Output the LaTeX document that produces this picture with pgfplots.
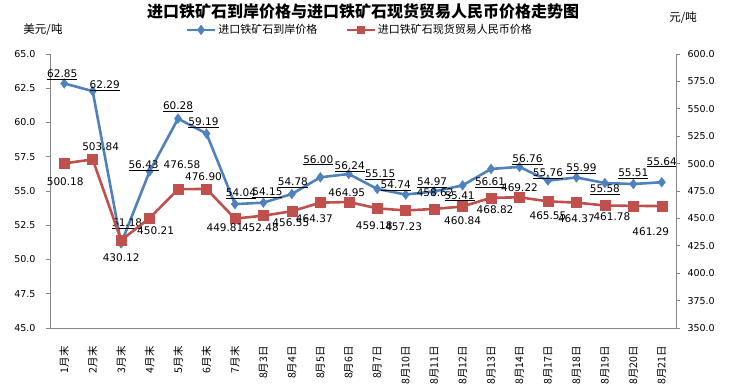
\documentclass[border=0pt]{standalone}
\usepackage{pgfplots}
\pgfplotsset{compat=1.18}
\usepackage{pgfplotstable}
\usepackage{fontspec}
\setmainfont{DejaVu Sans}
\newfontfamily\cjk{Noto Sans CJK SC}
\definecolor{eblue}{HTML}{4F81BD}
\definecolor{ered}{HTML}{C0504D}
\definecolor{axgray}{HTML}{868686}

\pgfplotstableread{
x y dx dy lab
0 62.85 -2 9 62.85
1 62.29 12 5 62.29
2 51.18 6 20 51.18
3 56.43 -6 6 56.43
4 60.28 0 12 60.28
5 59.19 -3 11 59.19
6 54.04 6 10 54.04
7 54.15 4 10 54.15
8 54.78 1 11 54.78
9 56.00 -2 17 56.00
10 56.24 1 7 56.24
11 55.15 3 14 55.15
12 54.74 -10 8.5 54.74
13 54.97 -2 9 54.97
14 55.41 -3 -11 55.41
15 56.61 -1 -14 56.61
16 56.76 8 7 56.76
17 55.76 0 7 55.76
18 55.99 5 9 55.99
19 55.58 0 -7 55.58
20 55.51 0 10 55.51
21 55.64 0 20 55.64
}\bluetab

\pgfplotstableread{
x y dx dy lab
0 500.18 1 -18 500.18
1 503.84 8 13 503.84
2 430.12 0 -17 430.12
3 450.21 6 -13 450.21
4 476.58 4 25 476.58
5 476.90 -3 12 476.90
6 449.81 -10 -9 449.81
7 452.48 -3 -12 452.48
8 456.55 -1 -11 456.55
9 464.37 -6 -15.6 464.37
10 464.95 -2 9 464.95
11 459.18 -3 -17 459.18
12 457.23 -2 -16.5 457.23
13 458.62 1 16 458.62
14 460.84 0 -14 460.84
15 468.82 4 -11.5 468.82
16 469.22 0 10 469.22
17 465.55 0 -14.6 465.55
18 464.37 0 -15.6 464.37
19 461.78 7 -11.5 461.78
20 461.40 0 0 {}
21 461.29 -11 -26 461.29
}\redtab

\begin{document}
\begin{tikzpicture}[x=1pt,y=1pt]
\useasboundingbox (0,0) rectangle (733,387);
\pgfplotsset{
  common/.style={
    at={(50pt,59pt)}, anchor=south west,
    scale only axis, width=626pt, height=274pt,
    xmin=-0.5, xmax=21.5,
    axis line style={axgray, line width=0.8pt},
    tick style={axgray, line width=0.8pt},
    tick align=outside,
    major tick length=4pt,
    minor tick length=5pt,
    yticklabel style={font=\fontsize{9.5}{9.5}\selectfont, /pgf/number format/.cd, fixed, fixed zerofill, precision=1, assume math mode=true},
    point meta=explicit symbolic,
    nodes near coords,
    visualization depends on={\thisrow{dx} \as \mydx},
    visualization depends on={\thisrow{dy} \as \mydy},
    every node near coord/.append style={anchor=center, xshift=\mydx pt, yshift=\mydy pt, font=\fontsize{10.5}{10.5}\selectfont, text=black, inner sep=0pt},
  }
}
\begin{axis}[common,
  axis x line*=bottom, axis y line*=left,
  ymin=45, ymax=65, ytick={45,47.5,...,65},
  yticklabel shift=7pt,
  xtick={0,...,21},
  xticklabels={1月末,2月末,3月末,4月末,5月末,6月末,7月末,8月3日,8月4日,8月5日,8月6日,8月7日,8月10日,8月11日,8月12日,8月13日,8月14日,8月17日,8月18日,8月19日,8月20日,8月21日},
  xticklabel style={rotate=90, anchor=east, font=\cjk\fontsize{10.5}{10.5}\selectfont, inner sep=0pt},
  xticklabel shift=14pt,
  x tick style={draw=none},
  minor xtick={-0.5,0.5,...,21.5},
  minor x tick style={axgray, line width=0.8pt},
  legend columns=2,
  legend style={at={(0.495,1.088)}, anchor=center, draw=none, fill=none,
    font=\cjk\fontsize{11}{11}\selectfont, inner sep=0pt,
    /tikz/every even column/.append style={column sep=26pt}},
  legend image code/.code={\draw[#1, mark repeat=2, mark phase=2] plot coordinates {(0pt,0pt) (14pt,0pt) (28pt,0pt)};},
]
\addplot[eblue, line width=2.6pt, mark=diamond*, mark size=4.8pt, mark options={fill=eblue, draw=eblue, line width=0.5pt},
  nodes near coords={\underline{\pgfplotspointmeta}}]
  table[x=x, y=y, meta=lab] {\bluetab};
\addlegendentry{进口铁矿石到岸价格}
\addlegendimage{ered, line width=2.6pt, mark=square*, mark size=3.5pt, mark options={fill=ered, draw=ered, line width=0.5pt}}
\addlegendentry{进口铁矿石现货贸易人民币价格}
\end{axis}
\begin{axis}[common,
  axis x line=none, axis y line*=right,
  ymin=350, ymax=600, ytick={350,375,...,600},
  yticklabel shift=4pt,
  xtick=\empty,
]
\addplot[ered, line width=2.6pt, mark=square*, mark size=5pt, mark options={fill=ered, draw=ered, line width=0.5pt}]
  table[x=x, y=y, meta=lab] {\redtab};
\end{axis}
\node[font=\cjk\bfseries\fontsize{16}{16}\selectfont] at (363,376) {进口铁矿石到岸价格与进口铁矿石现货贸易人民币价格走势图};
\node[font=\cjk\fontsize{11.5}{11.5}\selectfont] at (43,357) {美元/吨};
\node[font=\cjk\fontsize{11.5}{11.5}\selectfont] at (683,369) {元/吨};
\end{tikzpicture}
\end{document}
